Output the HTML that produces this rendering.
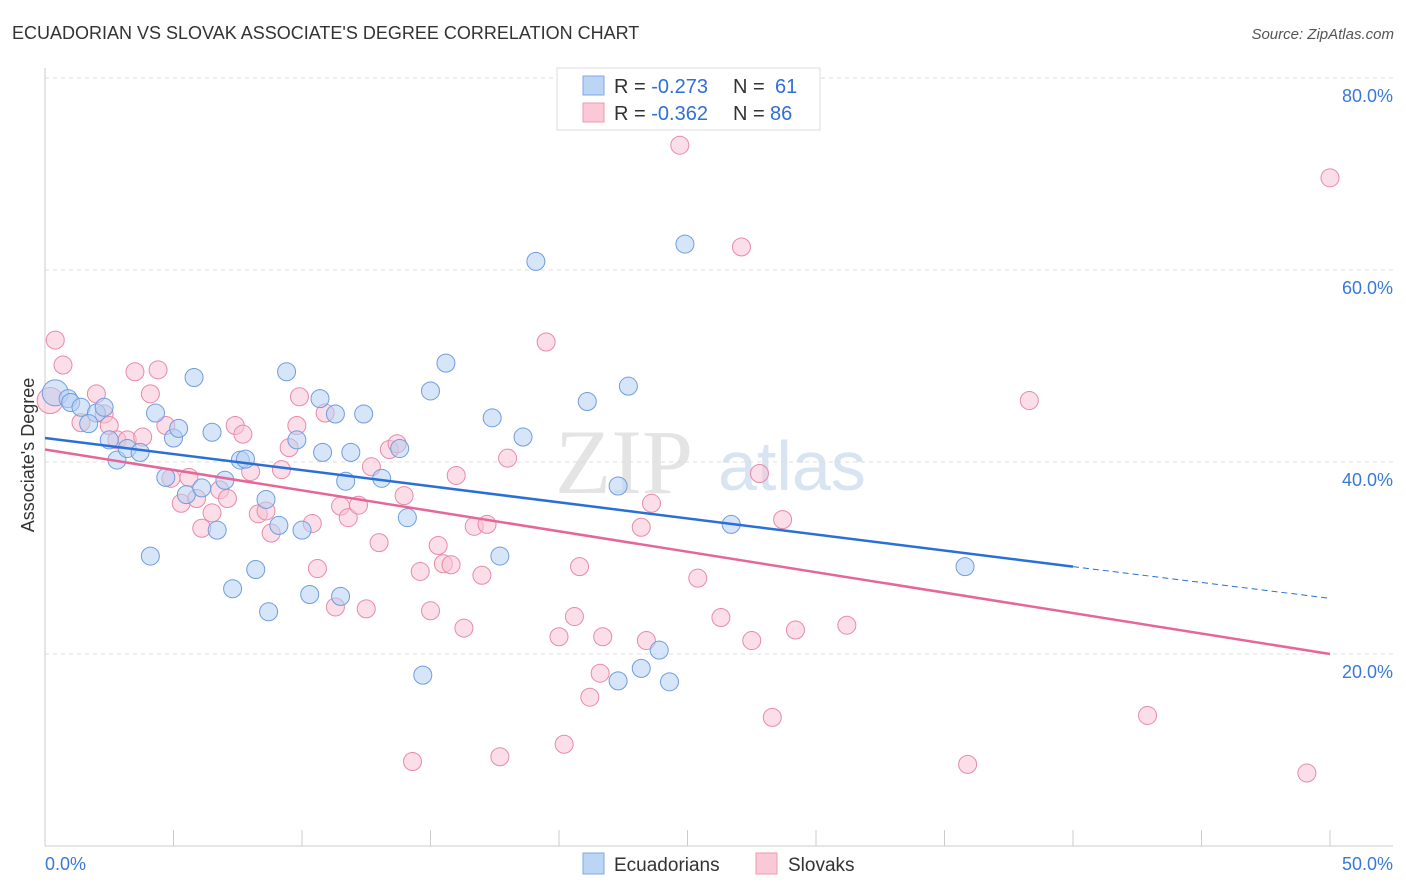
<!DOCTYPE html>
<html><head><meta charset="utf-8"><style>
body{margin:0;background:#fff;font-family:"Liberation Sans",sans-serif}
svg{display:block}
</style></head><body>
<svg id="c" width="1406" height="892">
<text x="12" y="39" font-size="18" fill="#333">ECUADORIAN VS SLOVAK ASSOCIATE'S DEGREE CORRELATION CHART</text>
<text x="1394" y="39" font-size="15" fill="#555" font-style="italic" text-anchor="end">Source: ZipAtlas.com</text>
<text x="555" y="493" font-size="92" fill="#e4e4e4" font-family="Liberation Serif,serif">ZIP</text>
<text x="718" y="490" font-size="70" fill="#d8e4f2">atlas</text>
<text transform="translate(34,455) rotate(-90)" font-size="18" fill="#333" text-anchor="middle">Associate's Degree</text>
<g id="grid"></g><g id="pts"></g><g id="lines"></g>
<g>
<rect x="557" y="68" width="263" height="62" fill="#fff" stroke="#ddd"/>
<rect x="583" y="76" width="21" height="19" fill="#bcd5f5" stroke="#7fa9e6"/>
<rect x="583" y="103" width="21" height="19" fill="#fac8d6" stroke="#ee9ab4"/>
<text x="614" y="93" font-size="20" fill="#333">R = <tspan fill="#2f6fd6">-0.273</tspan><tspan x="733">N = </tspan><tspan x="775" fill="#2f6fd6">61</tspan></text>
<text x="614" y="120" font-size="20" fill="#333">R = <tspan fill="#2f6fd6">-0.362</tspan><tspan x="733">N = </tspan><tspan x="770" fill="#2f6fd6">86</tspan></text>
</g>
<g>
<rect x="583" y="853" width="21" height="21" fill="#bcd5f5" stroke="#7fa9e6"/>
<text x="614" y="871" font-size="19" fill="#333">Ecuadorians</text>
<rect x="756" y="853" width="21" height="21" fill="#fac8d6" stroke="#ee9ab4"/>
<text x="788" y="871" font-size="19" fill="#333">Slovaks</text>
</g>
<text x="45" y="870" font-size="18" fill="#3a78d8">0.0%</text>
<text x="1393" y="870" font-size="18" fill="#3a78d8" text-anchor="end">50.0%</text>
</svg>
<script>
const yTicks=[20,40,60,80];
const blueX=[0.4,0.9,1.0,1.4,2.0,2.3,1.7,2.5,2.8,3.2,3.7,4.1,4.3,4.7,5.0,5.2,5.5,5.8,6.1,6.5,6.7,7.0,7.3,7.6,7.8,8.2,8.6,8.7,9.1,9.4,9.8,10.0,10.3,10.7,10.8,11.3,11.5,11.7,11.9,12.4,13.1,13.8,14.1,14.7,15.0,15.6,17.4,17.7,18.6,19.1,21.1,22.3,22.3,22.7,23.2,23.9,24.3,24.9,26.7,35.8];
const blueY=[47.2,46.6,46.2,45.7,45.1,45.7,44.0,42.3,40.2,41.4,41.0,30.2,45.1,38.4,42.5,43.5,36.6,48.8,37.3,43.1,32.9,38.1,26.8,40.2,40.3,28.8,36.1,24.4,33.4,49.4,42.3,32.9,26.2,46.6,41.0,45.0,26.0,38.0,41.0,45.0,38.3,41.4,34.2,17.8,47.4,50.3,44.6,30.2,42.6,60.9,46.3,37.5,17.2,47.9,18.5,20.4,17.1,62.7,33.5,29.1];
const pinkX=[0.4,0.7,0.2,1.4,2.0,2.3,2.5,2.8,3.2,3.5,3.8,4.1,4.4,4.7,4.9,5.3,5.6,5.9,6.1,6.5,6.8,7.1,7.4,7.7,8.0,8.3,8.6,8.8,9.2,9.5,9.8,9.9,10.4,10.6,10.9,11.3,11.5,11.8,12.2,12.5,12.7,13.0,13.4,13.7,13.972,14.3,14.6,15.0,15.3,15.5,15.8,16.0,16.3,16.7,17.0,17.2,17.7,18.0,19.5,20.0,20.2,20.6,20.8,21.2,21.6,21.7,23.2,23.4,23.6,24.7,25.4,26.3,27.1,27.5,27.8,28.3,28.7,29.2,31.2,35.9,38.3,42.9,49.1,50.0];
const pinkY=[52.7,50.1,46.4,44.1,47.1,45.0,43.8,42.3,42.3,49.4,42.6,47.1,49.6,43.8,38.3,35.7,38.4,36.2,33.1,34.7,37.1,36.2,43.8,42.9,39.0,34.6,34.9,32.6,39.2,41.5,43.8,46.8,33.6,28.9,45.1,24.9,35.4,34.2,35.5,24.7,39.5,31.6,41.3,41.9,36.5,8.8,28.6,24.5,31.3,29.4,29.3,38.6,22.7,33.3,28.2,33.5,9.3,40.4,52.5,21.8,10.6,23.9,29.1,15.5,18.0,21.8,33.2,21.4,35.7,73.0,27.9,23.8,62.4,21.4,38.8,13.4,34.0,22.5,23.0,8.5,46.4,13.6,7.6,69.6];
const blueFit=[42.5,29.1,25.8];const pinkFit=[41.3,20.0];
const X=v=>45+v*25.7, Y=v=>846-v*9.6;
const ns="http://www.w3.org/2000/svg";
function mk(t,a,p){const e=document.createElementNS(ns,t);for(const k in a)e.setAttribute(k,a[k]);document.getElementById(p).appendChild(e);return e;}
let ax=mk('line',{x1:45,y1:68,x2:45,y2:846,stroke:'#ccc'},'grid');


let bx=mk('line',{x1:45,y1:846,x2:1393,y2:846,stroke:'#ccc'},'grid');


for(let i=1;i<=10;i++){let t=mk('line',{x1:45+i*128.5,y1:830,x2:45+i*128.5,y2:846,stroke:'#ccc'},'grid');

}
yTicks.forEach(v=>{let g=mk('line',{x1:45,x2:1393,y1:Y(v),y2:Y(v),stroke:'#ddd','stroke-dasharray':'4,4'},'grid');


let t=mk('text',{x:1393,y:Y(v)+24,'font-size':18,fill:'#3a78d8','text-anchor':'end'},'grid');t.textContent=v.toFixed(1)+'%';

});
function pts(xs,ys,f,s,n){xs.forEach((x,i)=>{let c=mk('circle',{cx:X(x),cy:Y(ys[i]),r:(i==0&&n=='blue-point')||(i==2&&n=='pink-point')?13:9,fill:f,'fill-opacity':0.55,stroke:s,'stroke-width':1},'pts');

});}
pts(pinkX,pinkY,'#f8c3d3','#e88aa8','pink-point');
pts(blueX,blueY,'#b7d0f3','#6f9de0','blue-point');
let l1=mk('line',{x1:X(0),y1:Y(blueFit[0]),x2:X(40),y2:Y(blueFit[1]),stroke:'#2a6fd8','stroke-width':2.5},'lines');


let l2=mk('line',{x1:X(40),y1:Y(blueFit[1]),x2:X(50),y2:Y(blueFit[2]),stroke:'#2a6fd8','stroke-width':1,'stroke-dasharray':'6,4'},'lines');


let l3=mk('line',{x1:X(0),y1:Y(pinkFit[0]),x2:X(50),y2:Y(pinkFit[1]),stroke:'#e5679a','stroke-width':2.5},'lines');


</script>
</body></html>
